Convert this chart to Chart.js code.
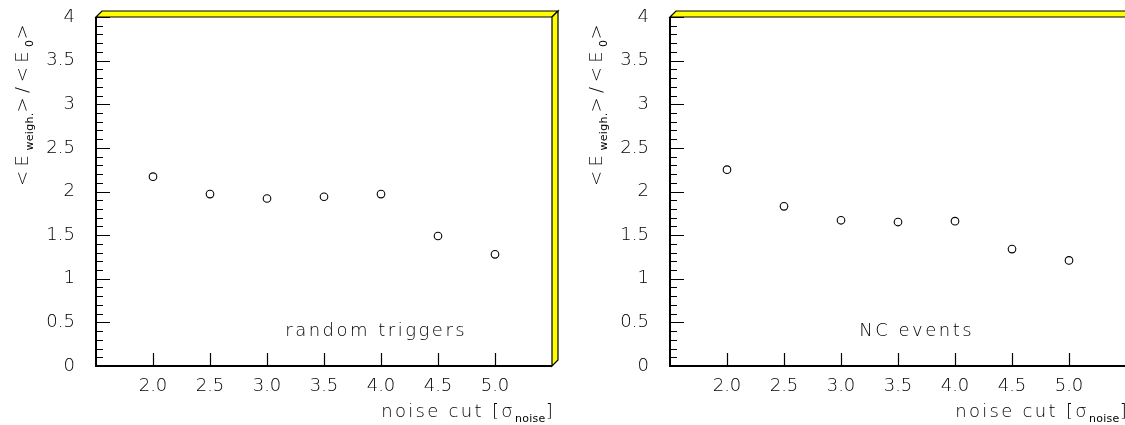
<!DOCTYPE html>
<html>
<head>
<meta charset="utf-8">
<script src="https://cdn.jsdelivr.net/npm/chart.js@4.4.1/dist/chart.umd.min.js"></script>
<style>
  html, body { margin:0; padding:0; background:#fff; overflow:hidden; width:1125px; height:425px; }
  .wrap { position:absolute; top:0; height:425px; }
</style>
</head>
<body>
<div class="wrap" style="left:0;width:562px;"><canvas id="c1"></canvas></div>
<div class="wrap" style="left:562px;width:570px;"><canvas id="c2"></canvas></div>
<script>
// ---- data ----
const noiseCuts = [2.0, 2.5, 3.0, 3.5, 4.0, 4.5, 5.0];
const ratioRandomTriggers = [2.17, 1.97, 1.92, 1.94, 1.97, 1.49, 1.28];
const ratioNCEvents = [2.25, 1.83, 1.67, 1.65, 1.66, 1.34, 1.21];
const xTickValues = [2.0, 2.5, 3.0, 3.5, 4.0, 4.5, 5.0];
const yMajorTicks = [0, 0.5, 1, 1.5, 2, 2.5, 3, 3.5, 4];
const panelLabels = ["random triggers", "NC events"];

const FONT = '"DejaVu Sans", "Liberation Sans", sans-serif';
const FW = 200;
const TXT = '#000';

function isMajorY(v) { return yMajorTicks.some(m => Math.abs(m - v) < 1e-6); }
function isXTick(v) { return xTickValues.some(m => Math.abs(m - v) < 1e-6); }

function setLS(ctx, px) { if ('letterSpacing' in ctx) ctx.letterSpacing = px + 'px'; }
function partFont(ctx, sub, ls) {
  ctx.font = `${sub ? 'normal' : FW} ${sub ? 11 : 18}px ${FONT}`;
  setLS(ctx, sub ? 0.3 : ls);
}
function drawRich(ctx, parts, x, y, ls) {
  let cx = x;
  for (const [t, sub] of parts) {
    partFont(ctx, sub, ls);
    ctx.fillText(t, cx, y + (sub ? 5 : 0));
    cx += ctx.measureText(t).width;
  }
  return cx - x;
}
function measureRich(ctx, parts, ls) {
  let w = 0;
  for (const [t, sub] of parts) {
    partFont(ctx, sub, ls);
    w += ctx.measureText(t).width;
  }
  return w;
}

const framePlugin = {
  id: 'frame3d',
  afterDraw(chart, args, opts) {
    const ctx = chart.ctx, ca = chart.chartArea;
    const xs = chart.scales.x, ys = chart.scales.y;
    const d = 6;
    ctx.save();
    ctx.lineJoin = 'miter';
    ctx.fillStyle = '#ffff00';
    ctx.strokeStyle = '#000';
    ctx.lineWidth = 1.2;
    ctx.beginPath();
    ctx.moveTo(ca.left, ca.top);
    ctx.lineTo(ca.left + d, ca.top - d);
    ctx.lineTo(ca.right + d, ca.top - d);
    ctx.lineTo(ca.right, ca.top);
    ctx.closePath();
    ctx.fill(); ctx.stroke();
    ctx.beginPath();
    ctx.moveTo(ca.right, ca.top);
    ctx.lineTo(ca.right + d, ca.top - d);
    ctx.lineTo(ca.right + d, ca.bottom - d);
    ctx.lineTo(ca.right, ca.bottom);
    ctx.closePath();
    ctx.fill(); ctx.stroke();
    ctx.lineWidth = 2;
    ctx.beginPath();
    ctx.moveTo(ca.left, ca.top);
    ctx.lineTo(ca.left, ca.bottom);
    ctx.lineTo(ca.right, ca.bottom);
    ctx.stroke();
    ctx.lineWidth = 1.2;
    ctx.beginPath();
    for (const t of ys.ticks) {
      const py = Math.round(ys.getPixelForValue(t.value)) + 0.5;
      const len = isMajorY(t.value) ? 14 : 7;
      ctx.moveTo(ca.left, py);
      ctx.lineTo(ca.left + len, py);
    }
    ctx.stroke();
    ctx.beginPath();
    for (const v of xTickValues) {
      const px = Math.round(xs.getPixelForValue(v)) + 0.5;
      ctx.moveTo(px, ca.bottom);
      ctx.lineTo(px, ca.bottom - 13);
    }
    ctx.stroke();

    ctx.fillStyle = TXT;
    ctx.textBaseline = 'alphabetic';
    ctx.textAlign = 'left';
    // x title
    const xParts = [['noise cut [\u03c3', false], ['noise', true], [']', false]];
    const xw = measureRich(ctx, xParts, 2.3);
    drawRich(ctx, xParts, ca.right + 3 - xw, 417, 2.3);
    // y title
    const yParts = [['<E', false], ['weigh.', true], ['>/<E', false], ['0', true], ['>', false]];
    const yw = measureRich(ctx, yParts, 4.5);
    ctx.save();
    ctx.translate(ca.left - 68, 20 + yw);
    ctx.rotate(-Math.PI / 2);
    drawRich(ctx, yParts, 0, 0, 4.5);
    ctx.restore();
    // panel label
    setLS(ctx, 2.5);
    ctx.font = `${FW} 18px ${FONT}`;
    ctx.fillText(opts.label, xs.getPixelForValue(opts.labelX), ys.getPixelForValue(opts.labelY));
    ctx.restore();
  }
};

function makeChart(id, values, label, yAxisWidth, rightPad) {
  new Chart(document.getElementById(id), {
    type: 'scatter',
    data: {
      datasets: [{
        data: noiseCuts.map((x, i) => ({ x, y: values[i] })),
        pointStyle: 'circle',
        pointRadius: 3.8,
        pointBorderWidth: 1.1,
        borderColor: '#000',
        backgroundColor: 'rgba(0,0,0,0)',
        showLine: false
      }]
    },
    options: {
      responsive: true,
      maintainAspectRatio: false,
      animation: false,
      events: [],
      layout: { padding: { left: 0, top: 17, right: rightPad, bottom: 0 } },
      plugins: {
        legend: { display: false },
        tooltip: { enabled: false },
        frame3d: { label, labelX: 3.16, labelY: 0.34 }
      },
      scales: {
        x: {
          type: 'linear', min: 1.5, max: 5.5,
          grid: { display: false, drawTicks: false },
          border: { display: false },
          ticks: {
            stepSize: 0.5, autoSkip: false, maxRotation: 0, padding: 10,
            color: TXT, font: { family: FONT, size: 18, weight: FW },
            callback: v => isXTick(v) ? v.toFixed(1) : ''
          },
          afterFit: s => { s.height = 59; s.paddingLeft = 0; s.paddingRight = 0; }
        },
        y: {
          type: 'linear', min: 0, max: 4,
          grid: { display: false, drawTicks: false },
          border: { display: false },
          ticks: {
            stepSize: 0.1, autoSkip: false, padding: 21,
            color: TXT, font: { family: FONT, size: 18, weight: FW },
            callback: v => isMajorY(v) ? String(Math.round(v * 10) / 10) : ''
          },
          afterFit: s => { s.width = yAxisWidth; s.paddingTop = 0; s.paddingBottom = 0; }
        }
      }
    },
    plugins: [framePlugin]
  });
}

makeChart('c1', ratioRandomTriggers, panelLabels[0], 96, 10);
makeChart('c2', ratioNCEvents, panelLabels[1], 108, 6);
</script>
</body>
</html>
